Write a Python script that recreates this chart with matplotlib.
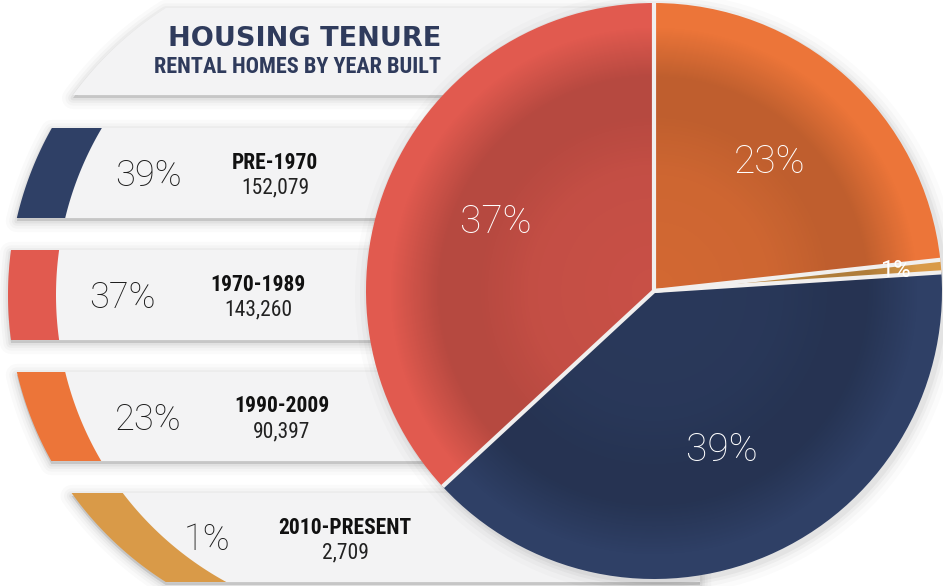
import numpy as np
import matplotlib.pyplot as plt
from matplotlib.patches import Polygon, Circle

# data
periods = ['PRE-1970', '1970-1989', '1990-2009', '2010-PRESENT']
homes = [152079, 143260, 90397, 2709]
colors = ['#2f4066', '#e15a4f', '#ec7539', '#d99a48']
title = 'HOUSING TENURE'
subtitle = 'RENTAL HOMES BY YEAR BUILT'

shares = [100 * v / sum(homes) for v in homes]

# layout in pixels, y pointing down
W, H = 943, 586
pie_c, pie_r = (654, 291), 288
outer_c, outer_r = (348, 295), 340
inner_c, inner_r = (383, 295), 327
title_band = (8, 95)
bands = [(128, 218), (250, 340), (372, 461), (493, 582)]
band_right = [640, 640, 640, 700]
pct_x = [148, 122, 148, 207]
lab_x = [275, 258, 282, 345]
band_grey = '#f3f3f4'
navy_text = '#2f3b5c'
light = ['Roboto', 'DejaVu Sans']
narrow = ['Roboto Condensed', 'Roboto', 'DejaVu Sans']

fig = plt.figure(figsize=(W / 100, H / 100), dpi=100)
ax = fig.add_axes([0, 0, 1, 1])


def band_shape(y0, y1, c, r, right=640):
    ys = np.linspace(y0, y1, 80)
    xs = c[0] - np.sqrt(r ** 2 - (ys - c[1]) ** 2)
    return np.column_stack([np.r_[xs, right, right], np.r_[ys, y1, y0]])


def soft_shadow(verts, dy=3, z=1):
    for lw, a in [(16, .018), (11, .024), (7, .032), (3.5, .045)]:
        ax.add_patch(Polygon(verts + [0, dy], closed=True, fc=(0, 0, 0, a),
                             ec=(0, 0, 0, a), lw=lw, joinstyle='round', zorder=z))


# title band
tb = band_shape(*title_band, outer_c, outer_r)
soft_shadow(tb)
ax.add_patch(Polygon(tb, closed=True, fc=band_grey, ec='none', zorder=2))
ax.text(441, 39, title, ha='right', va='center', fontsize=19.5, fontweight='bold',
        color=navy_text, family='DejaVu Sans', zorder=6)
ax.text(441, 67, subtitle, ha='right', va='center', fontsize=16, fontweight='bold',
        fontstretch='condensed', color=navy_text, family=narrow, zorder=6)

# category bands with coloured ring pieces
for i, (y0, y1) in enumerate(bands):
    ob = band_shape(y0, y1, outer_c, outer_r, band_right[i])
    soft_shadow(ob)
    ax.add_patch(Polygon(ob, closed=True, fc=colors[i], ec='none', zorder=2))
    ax.add_patch(Polygon(band_shape(y0, y1, inner_c, inner_r, band_right[i]), closed=True,
                         fc=band_grey, ec='none', zorder=2.1))
    ym = (y0 + y1) / 2
    ax.text(pct_x[i], ym + 3, f'{shares[i]:.0f}%', ha='center', va='center',
            fontsize=26, fontweight='light', family=light, color='#1c1c1c', zorder=6)
    ax.text(lab_x[i], ym - 10, periods[i], ha='center', va='center', fontsize=15.5,
            fontweight='bold', fontstretch='condensed', family=narrow, color='#111111', zorder=6)
    ax.text(lab_x[i], ym + 15, f'{homes[i]:,}', ha='center', va='center', fontsize=15.5,
            fontstretch='condensed', family=narrow, color='#222222', zorder=6)

# pie shadow
for d, a in [(14, .015), (9, .022), (5, .03), (2, .04)]:
    ax.add_patch(Circle((pie_c[0] + 3, pie_c[1] + 3), pie_r + d, fc=(0, 0, 0, a),
                        ec='none', zorder=2.5))

# pie, counter-clockwise from the top (y axis is inverted)
order = [1, 0, 3, 2]
wedges, _, autotexts = ax.pie([homes[k] for k in order], colors=[colors[k] for k in order],
                              center=pie_c, radius=pie_r, startangle=-90, counterclock=False,
                              autopct='%.0f%%', pctdistance=0.6,
                              wedgeprops=dict(linewidth=0, zorder=3),
                              textprops=dict(color='white', fontsize=28, fontweight='light',
                                             family=light, zorder=7))
# small slice label sits near the rim
w = wedges[2]
mid = np.radians((w.theta1 + w.theta2) / 2)
autotexts[2].set_position((pie_c[0] + 0.84 * pie_r * np.cos(mid),
                           pie_c[1] + 0.84 * pie_r * np.sin(mid)))
autotexts[2].set_fontsize(17)
autotexts[2].set_fontweight('normal')

# dish-like radial shading on the pie
n = 400
g = np.linspace(-1, 1, n)
rr = np.hypot(*np.meshgrid(g, g)) * pie_r
shade = np.zeros((n, n, 4))
shade[..., 3] = np.interp(rr, [0, 120, 175, 215, 265, 400], [0.11, 0.13, 0.19, 0.19, 0.0, 0.0])
im = ax.imshow(shade, extent=(pie_c[0] - pie_r, pie_c[0] + pie_r, pie_c[1] + pie_r, pie_c[1] - pie_r),
               interpolation='bilinear', zorder=3.5)
im.set_clip_path(Circle(pie_c, pie_r, transform=ax.transData))

# white separators between slices
for w in wedges:
    t = np.radians(w.theta1)
    ax.plot([pie_c[0], pie_c[0] + pie_r * np.cos(t)], [pie_c[1], pie_c[1] + pie_r * np.sin(t)],
            color='#f1efee', lw=3, solid_capstyle='butt', zorder=4)

ax.set_xlim(0, W)
ax.set_ylim(H, 0)
ax.set_aspect('auto')
ax.axis('off')
fig.savefig('out.png', dpi=100, facecolor='white')
